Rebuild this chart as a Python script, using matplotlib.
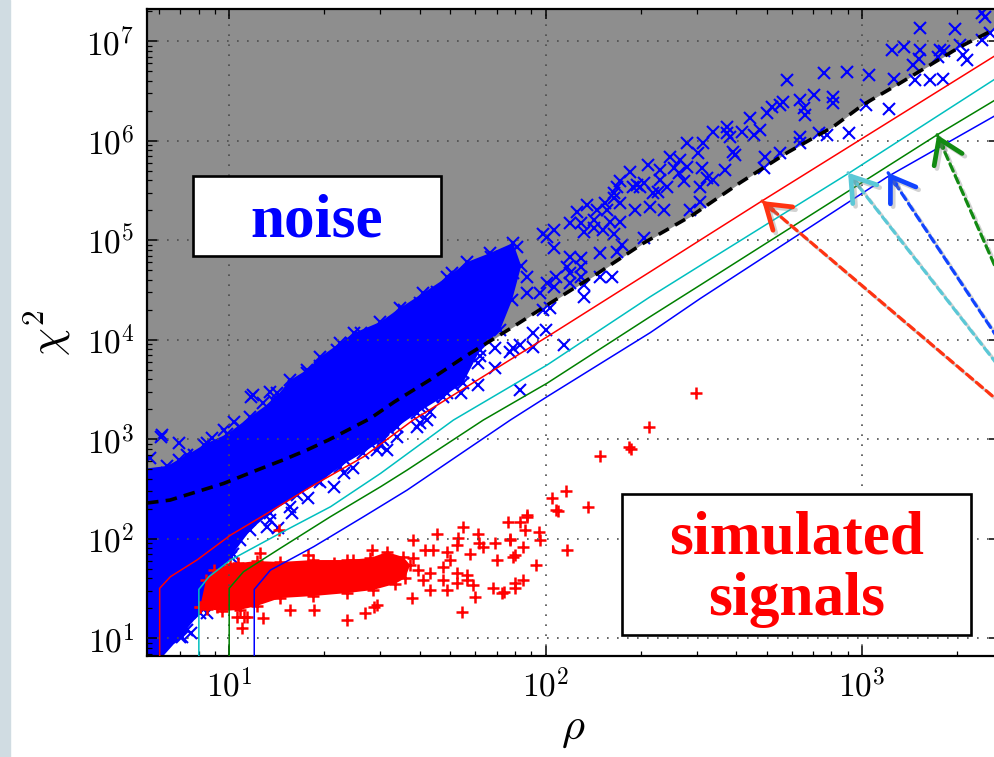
import numpy as np
import matplotlib
matplotlib.use('Agg')
import matplotlib.pyplot as plt
import matplotlib.patheffects as pe
from matplotlib.patches import Rectangle
from matplotlib.ticker import FuncFormatter, FixedLocator

plt.rcParams['mathtext.fontset'] = 'cm'

# detection threshold (dashed), grey region above it is "noise"
thr_rho = [5.5, 6.5, 9.6, 12.2, 14.8, 17.6, 20.8, 27.9, 33.2, 43.2, 54.8, 78.9, 101,
           146, 203, 292, 412, 580, 809, 1006, 1318, 2040, 2595, 4000]
thr_chi2 = [229, 245, 360, 488, 620, 780, 1000, 1620, 2370, 3980, 6600, 13500, 22300,
            46500, 93000, 1.8e5, 3.8e5, 7.6e5, 1.38e6, 2.3e6, 3.8e6, 8.8e6, 1.3e7, 2.9e7]

# chi2 cuts for the four thresholds
cut_rho = {
    'r': [6.03, 6.03, 6.52, 7.92, 10.1, 12.9, 18.5, 26.6, 38.1, 101, 214, 307, 482, 2600, 10000],
    'c': [8.02, 8.02, 8.63, 10.1, 14.5, 20.9, 30.1, 36.5, 51.1, 101, 214, 308, 906, 2600, 10000],
    'g': [10.0, 10.0, 11.1, 14.5, 20.9, 30.1, 36.5, 63.5, 101, 214, 308, 1720, 2600, 10000],
    'b': [12.0, 12.0, 13.5, 18.5, 26.6, 36.5, 77.3, 101, 214, 308, 1210, 2600, 10000],
}
cut_chi2 = {
    'r': [5, 31.8, 41.6, 61.4, 109, 173, 347, 668, 1560, 10700, 48300, 1.0e5, 2.48e5, 7.0e6, 1.04e8],
    'c': [5, 31.0, 41.6, 61.2, 114, 210, 455, 713, 1560, 5580, 27100, 55800, 4.71e5, 4.08e6, 6e7],
    'g': [5, 31.8, 46.7, 80.3, 167, 334, 491, 1560, 3660, 17100, 35500, 1.14e6, 2.51e6, 3.7e7],
    'b': [5, 31.0, 48.5, 83.4, 167, 309, 1560, 2680, 11800, 26000, 4.4e5, 1.75e6, 2.6e7],
}

# dense core of the noise triggers
core_rho = [5.0, 6.37, 7.36, 8.52, 9.86, 11.65, 13.8, 15.6, 17.6, 19.4, 22.4, 24.8, 30.0,
            34.7, 41.0, 48.9, 56.5, 66.8, 78.9, 83.7, 78.3, 71.8, 62.1, 54.8, 47.4, 39.3,
            34.0, 30.7, 26.5, 22.4, 19.4, 16.4, 13.5, 11.65, 10.1, 9.37, 8.71, 8.09, 7.0,
            5.9, 5.0]
core_chi2 = [491, 540, 697, 918, 1130, 1680, 2480, 3950, 4970, 6720, 9290, 11700, 15100,
             20900, 29500, 42700, 60500, 74500, 94000, 55200, 25100, 12600, 7900, 3680, 2670,
             1840, 1340, 995, 736, 532, 372, 276, 182, 122, 65.6, 45.3, 30.5, 17.9, 10.3,
             5.6, 5.6]

# individual noise triggers
noise_rho = [2390, 2450, 1520, 1970, 1240, 1360, 1520, 1510, 1450, 1760, 1810, 1740, 2040,
             2090, 2140, 2390, 2540, 755, 895, 1050, 1260, 1470, 1640, 1800, 578, 1030, 1220,
             443, 500, 519, 551, 564, 637, 653, 661, 702, 811, 811, 417, 374, 374, 339, 383,
             454, 476, 637, 637, 728, 773, 906, 392, 397, 494, 551, 488, 369, 315, 312, 323,
             339, 308, 308, 279, 304, 247, 266, 211, 185, 230, 254, 263, 279, 273, 230, 242,
             227, 219, 204, 199, 189, 172, 168, 164, 154, 192, 214, 236, 286, 194, 172, 164,
             156, 135, 126, 145, 119, 129, 142, 160, 172, 132, 142, 152, 164, 204, 174, 168,
             149, 119, 129, 106, 106, 98, 101, 117, 129, 129, 132, 119, 119, 108, 106, 101,
             96, 87, 87, 79, 132, 149, 162, 98, 103, 100, 91, 91, 114, 83, 79, 77, 69, 69, 62,
             61, 55, 54, 83, 50.6, 48.8, 44.2, 40.1, 34.7, 50.6, 55, 59, 67, 72, 81, 35.6,
             45.3, 40.1, 61, 43.2, 40.1, 42.2, 39.2, 33.9, 30.0, 31.5, 29.3, 24.7, 23.0, 21.4,
             18.9, 17.8, 17.0, 15.6, 15.8, 13.5, 13.2, 14.3, 10.8, 10.3, 8.5, 7.36, 7.55, 7.1,
             8.95, 6.07, 6.93, 6.93, 8.83, 7.73, 11.7, 13.5, 5.64, 6.37, 10.35, 9.6, 21.9,
             24.2, 26.0, 19.4, 17.6, 16.0, 6.13, 11.9, 14.2, 12.8, 10.8, 8.3, 26.0]
noise_chi2 = [1.91e7, 1.77e7, 1.35e7, 1.32e7, 8.2e6, 8.8e6, 8.2e6, 6.7e6, 5.8e6, 8.2e6, 7.9e6,
              7.0e6, 9.2e6, 7.3e6, 6.5e6, 1.03e7, 1.2e7, 4.76e6, 4.9e6, 4.6e6, 4.2e6, 4.1e6,
              4.1e6, 4.2e6, 4.1e6, 2.3e6, 2.1e6, 1.68e6, 1.89e6, 2.2e6, 2.3e6, 2.47e6, 2.57e6,
              2.12e6, 1.82e6, 2.88e6, 2.77e6, 2.38e6, 1.23e6, 1.39e6, 1.19e6, 1.23e6, 1.10e6,
              1.14e6, 1.28e6, 1.10e6, 9.4e5, 1.19e6, 1.14e6, 1.19e6, 7.8e5, 7.2e5, 6.9e5,
              7.5e5, 5.3e5, 5.1e5, 9.4e5, 5.3e5, 4.2e5, 4.04e5, 3.46e5, 2.44e5, 9.6e5, 7.5e5,
              6.9e5, 6.4e5, 5.7e5, 4.9e5, 5.1e5, 5.3e5, 4.7e5, 5.5e5, 3.9e5, 4.0e5, 3.46e5,
              3.08e5, 2.97e5, 3.74e5, 3.46e5, 3.46e5, 3.9e5, 3.46e5, 2.97e5, 2.36e5, 2.02e5,
              2.18e5, 2.02e5, 2.02e5, 3.6e5, 2.36e5, 2.64e5, 2.02e5, 2.26e5, 1.94e5, 2.02e5,
              1.48e5, 1.48e5, 1.6e5, 1.54e5, 1.54e5, 1.22e5, 1.32e5, 1.27e5, 1.17e5, 1.05e5,
              9.0e4, 7.7e4, 7.4e4, 6.8e4, 6.6e4, 8.3e4, 1.27e5, 1.17e5, 1.09e5, 5.4e4, 5.4e4,
              4.3e4, 3.56e4, 4.66e4, 3.7e4, 4.3e4, 3.42e4, 3.7e4, 2.93e4, 4.3e4, 2.93e4,
              4.66e4, 2.71e4, 4.3e4, 4.3e4, 2.0e4, 2.07e4, 1.25e4, 1.16e4, 8.5e3, 8.9e3, 8.9e3,
              8.2e3, 7.6e3, 8.2e3, 5.2e3, 6.8e3, 5.8e3, 4.6e3, 2.9e3, 3.13e3, 3.66e3, 2.9e3,
              2.68e3, 2.13e3, 1.82e3, 4.66e4, 4.3e4, 5.4e4, 6.8e4, 6.3e4, 8.6e4, 2.0e4, 3.04e4,
              2.33e4, 3.5e3, 1.89e3, 1.45e3, 1.56e3, 1.34e3, 1.06e3, 877, 782, 782, 512, 455,
              334, 390, 255, 361, 210, 180, 155, 132, 128, 97, 71, 17.8, 12.1, 11.2, 10.4, 28.3,
              1060, 912, 620, 1020, 695, 2680, 3000, 644, 455, 1500, 1240, 7900, 9200, 10700,
              5400, 4600, 3400, 1100, 2800, 2900, 2300, 1340, 877, 11600]

# dense core and individual simulated signals
sig_core_rho = [8.09, 8.45, 8.97, 10.07, 12.2, 14.5, 18.4, 23.6, 27.9, 31.5, 35.5, 37.3, 36.0,
                33.4, 28.5, 23.6, 18.4, 14.5, 12.2, 10.8, 9.5, 8.5]
sig_core_chi2 = [20.7, 38.5, 48.5, 55.8, 59.8, 58.5, 61.2, 61.2, 64.1, 73.6, 65.6, 54.6, 40.4,
                 35.2, 30.6, 28.5, 26.6, 25.4, 21.1, 19.3, 18.8, 19.7]
sig_rho = [105, 108, 87, 76, 83, 86, 95, 96, 77, 85, 80, 93, 85, 80, 80, 74, 68, 61, 61.4, 55,
           53, 52.4, 45.3, 38.2, 70, 69, 63.5, 57.7, 47.5, 52.4, 56.4, 59, 59.9, 56.4, 52.4,
           48.7, 47.5, 41.1, 43.2, 39.6, 38.2, 41.6, 44.2, 48.7, 49.9, 37.8, 43.2, 54.3, 26.9,
           23.5, 28.6, 28.2, 24.7, 21.4, 17.8, 12.5, 18.5, 15.6, 12.8, 11.1, 11.0, 14.4, 29.4,
           8.1, 9.5, 10.7, 299, 212, 183, 186, 149, 116, 136, 109, 117, 87.5, 77, 79, 73, 10.6,
           11.4, 9.15]
sig_chi2 = [255, 195, 167, 149, 149, 122, 118, 97, 97, 83, 69, 55, 38.5, 35.7, 31.8, 29.4,
            31.8, 113, 90, 132, 101, 87, 113, 97, 61, 90, 83, 71, 52.5, 45, 43.3, 34.4, 26.2,
            38.5, 35.7, 30.6, 38.5, 38.5, 45, 48.5, 63.7, 77, 77, 74, 61, 25.2, 30.6, 18.5,
            17.8, 15.3, 20.8, 77, 61, 56.7, 68.7, 71.4, 19.2, 19.2, 15.9, 16.5, 12.6, 122, 21.6,
            20.8, 28.3, 56.7, 2940, 1320, 832, 800, 679, 302, 207, 190, 78, 173, 99.5, 66, 28.3,
            16.5, 16.5, 20.8]

# arrows pointing at the four cut lines (tails sit off the right edge)
arrow_rho = [483, 903, 1208, 1726]
arrow_chi2 = [2.48e5, 4.77e5, 4.77e5, 1.15e6]
arrow_tail = [(1.0865, 0.379), (1.0664, 0.412), (1.0463, 0.469), (1.0262, 0.573)]
arrow_col = ['#ff3311', '#5bc8d6', '#1144ff', '#128a12']

x_ticks = [10, 100, 1000]
y_ticks = [1e1, 1e2, 1e3, 1e4, 1e5, 1e6, 1e7]

fig = plt.figure(figsize=(9.94, 7.57), dpi=100)
fig.add_artist(Rectangle((0, 0), 10 / 994, 1, transform=fig.transFigure,
                         color='#d0dce2', zorder=0))
ax = fig.add_axes([0.1479, 0.1334, 0.8568, 0.8547])
ax.set_xscale('log')
ax.set_yscale('log')
ax.set_xlim(5.5, 2700)
ax.set_ylim(6.64, 2.11e7)

ax.fill_between(thr_rho, thr_chi2, 1e9, color='#8e8e8e', lw=0, zorder=0.5)

ax.fill(core_rho, core_chi2, color='b', lw=0, zorder=1)
ax.plot(core_rho, core_chi2, 'bx', ms=8, mew=1.5, zorder=1)
ax.plot(noise_rho, noise_chi2, 'bx', ms=8, mew=1.5, zorder=1)

ax.fill(sig_core_rho, sig_core_chi2, color='r', lw=0, zorder=1.2)
ax.plot(sig_core_rho, sig_core_chi2, 'r+', ms=8, mew=1.8, zorder=1.2)
ax.plot(sig_rho, sig_chi2, 'r+', ms=8, mew=1.8, zorder=1.2)

for c in ['r', 'c', 'g', 'b']:
    ax.plot(cut_rho[c], cut_chi2[c], color=c, lw=1.1, zorder=3)
ax.plot(thr_rho, thr_chi2, color='k', lw=2.6, dashes=(3.2, 2.0), zorder=3.2)

ax.set_axisbelow(False)
ax.grid(True, which='major', color='0.3', lw=1.2, ls=(0, (1, 5)))
for s in ax.spines.values():
    s.set_linewidth(1.6)
ax.tick_params(which='both', direction='in', top=True, right=True)
ax.tick_params(which='major', length=7, width=1.1, labelsize=24, pad=9)
ax.tick_params(which='minor', length=3.5, width=0.9)
ax.xaxis.set_major_locator(FixedLocator(x_ticks))
ax.yaxis.set_major_locator(FixedLocator(y_ticks))
fmt = FuncFormatter(lambda v, p: r'$10^{%d}$' % round(np.log10(v)))
ax.xaxis.set_major_formatter(fmt)
ax.yaxis.set_major_formatter(fmt)
ax.set_xlabel(r'$\rho$', fontsize=32, labelpad=2)
ax.set_ylabel(r'$\chi^2$', fontsize=32, labelpad=10)

# label boxes
for x0, y0, w, h in [(0.1942, 0.6618, 0.2495, 0.1057), (0.6261, 0.1608, 0.3505, 0.1867)]:
    ax.add_patch(Rectangle((x0, y0), w, h, transform=fig.transFigure, facecolor='white',
                           edgecolor='k', lw=1.9, zorder=5, clip_on=False))
font = dict(family='Liberation Serif', weight='bold', fontsize=44, ha='center',
            va='baseline', transform=fig.transFigure, zorder=6)
ax.text(0.3189, 0.6873, 'noise', color='b', **font)
ax.text(0.8013, 0.2682, 'simulated', color='r', **font)
ax.text(0.8013, 0.1876, 'signals', color='r', **font)

shadow = [pe.SimpleLineShadow(offset=(2, -2), shadow_color='0.5', alpha=0.35), pe.Normal()]
for hx, hy, (tx, ty), col in zip(arrow_rho, arrow_chi2, arrow_tail, arrow_col):
    hd = ax.transData.transform((hx, hy))
    td = fig.transFigure.transform((tx, ty))
    u = (td - hd) / np.hypot(*(td - hd))
    ax.annotate('', xy=(hx, hy), xytext=(tx, ty), textcoords='figure fraction',
                annotation_clip=False, zorder=7,
                arrowprops=dict(arrowstyle='-', color=col, lw=2.3, ls=(0, (2.5, 1.5)),
                                shrinkA=0, shrinkB=0, path_effects=shadow))
    ax.annotate('', xy=(hx, hy), xytext=tuple(hd + u * 14), textcoords='figure pixels',
                annotation_clip=False, zorder=7,
                arrowprops=dict(arrowstyle='->,head_length=0.75,head_width=0.5', color=col,
                                lw=3.4, shrinkA=0, shrinkB=0, mutation_scale=22,
                                path_effects=shadow))

fig.savefig('out.png', dpi=100)
